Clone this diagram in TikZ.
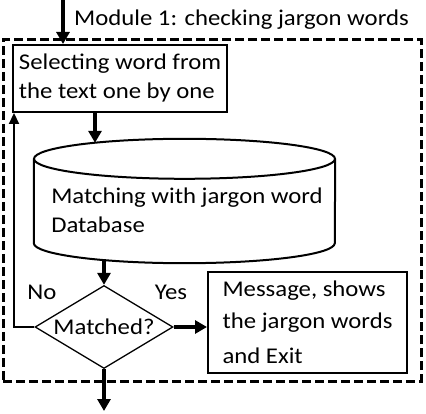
\documentclass[tikz,border=0pt]{standalone}
\usepackage{fontspec}
\setmainfont{Carlito}[FakeStretch=1.1]
\usetikzlibrary{arrows.meta,shapes.geometric}

\begin{document}
\begin{tikzpicture}[x=1pt,y=-1pt,
    every node/.style={font=\fontsize{22.5}{29}\selectfont},
    box_node/.style={rectangle,draw,line width=2pt,inner sep=0pt,align=left},
    db_node/.style={rectangle,inner sep=0pt,minimum width=301pt,minimum height=84pt},
    db_line/.style={line width=2pt},
    dec_node/.style={diamond,draw,line width=1.3pt,inner sep=0pt,aspect=1.66,minimum width=138pt,minimum height=83pt},
    frame_node/.style={rectangle,draw,line width=3pt,dash pattern=on 9pt off 4pt,inner sep=0pt},
    arr/.style={line width=3.5pt,-{Triangle[length=12pt,width=13pt]}}]
    \useasboundingbox (0,0) rectangle (426,414);
    \node[frame_node,minimum width=418pt,minimum height=341pt] (module) at (212,210.5) {};
    \node[anchor=west,inner sep=0pt] (title) at (74,20) {Module 1: checking jargon words};
    \node[box_node,minimum width=214pt,minimum height=67pt] (select) at (120,78.5) {Selecting word from\\the text one by one};
    % database drum
    \node[db_node] (db) at (184.5,201) {};
    \draw[db_line] (db.north west) -- (db.south west) arc[start angle=180,end angle=0,x radius=150.5,y radius=20] -- (db.north east);
    \draw[db_line] (db.north) ellipse [x radius=150.5,y radius=20];
    \node[align=left] (dbtext) at (187,210.5) {Matching with jargon word\\Database};
    \node[dec_node] (dec) at (104,327) {Matched?};
    \node[box_node,minimum width=199pt,minimum height=101pt,font=\fontsize{22.5}{32}\selectfont] (msg) at (307.5,322.5) {Message, shows\\the jargon words\\[3pt]and Exit};
    \node (no) at (42,292) {No};
    \node (yes) at (171,292) {Yes};
    \coordinate (in) at (63,0);
    \coordinate (out) at (104,411);
    \draw[arr] (in) -- (in |- select.north);
    \draw[arr] ([xshift=-25pt]select.south) -- ([xshift=-25pt,yshift=16pt]select.south |- db.north);
    \draw[arr] ([yshift=-16pt]dec.north |- db.south) -- (dec.north);
    \draw[arr] (dec.east) -- (dec.east -| msg.west);
    \draw[arr] (dec.south) -- (out);
    \draw[line width=2.2pt,-{Triangle[length=11pt,width=10pt]}] (dec.west) -| ([xshift=2pt]select.south west);
\end{tikzpicture}
\end{document}
